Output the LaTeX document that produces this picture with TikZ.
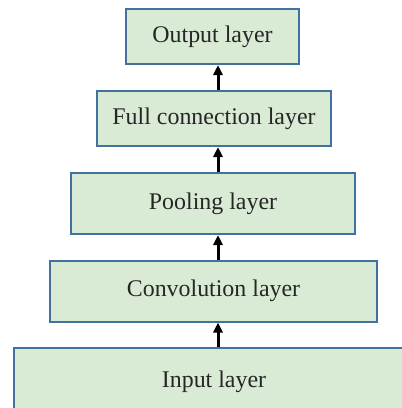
\documentclass[tikz,border=0pt]{standalone}
\usepackage{fontspec}
\setmainfont{Liberation Serif}
\usetikzlibrary{arrows.meta}
\definecolor{boxfill}{HTML}{DAEBD5}
\definecolor{boxline}{HTML}{41719C}
\definecolor{txt}{HTML}{262626}
\begin{document}
\begin{tikzpicture}[x=1pt,y=1pt,
  layerbox/.style={draw=boxline, fill=boxfill, line width=2pt, inner sep=0pt,
    text=txt, font=\fontsize{23.9}{28}\selectfont},
  arr/.style={-{Triangle[length=10pt,width=9pt]}, line width=3pt, black}]
\useasboundingbox (0,0) rectangle (402,-408);
\clip (0,0) rectangle (402,-408);
\node[layerbox, minimum width=173pt, minimum height=55pt] (out) at (212.5,-36.5) {Output layer};
\node[layerbox, minimum width=234pt, minimum height=55pt] (full) at (214,-118.5) {Full connection layer};
\node[layerbox, minimum width=284pt, minimum height=61pt] (pool) at (213,-203.5) {Pooling layer};
\node[layerbox, minimum width=327pt, minimum height=61pt] (conv) at (213.5,-291) {Convolution layer};
\node[layerbox, minimum width=410pt, minimum height=67pt] (inp) at (219,-381.5) {\hspace*{-10pt}Input layer};
\coordinate (axis) at (218,0);
\draw[arr] (inp.north -| axis) -- (conv.south -| axis);
\draw[arr] (conv.north -| axis) -- (pool.south -| axis);
\draw[arr] (pool.north -| axis) -- (full.south -| axis);
\draw[arr] (full.north -| axis) -- (out.south -| axis);
\end{tikzpicture}
\end{document}
